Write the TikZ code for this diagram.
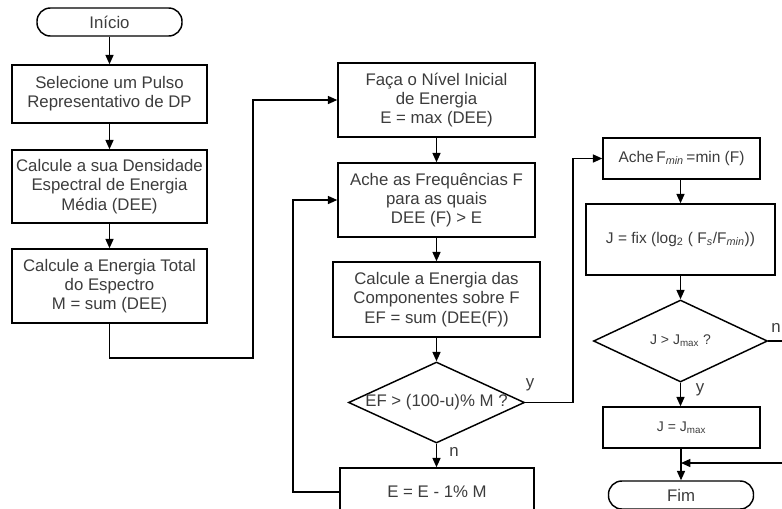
\documentclass[tikz,border=0pt]{standalone}
\usepackage{fontspec}
\setmainfont{Liberation Sans}
\usetikzlibrary{arrows.meta,shapes.geometric}
\definecolor{txtgray}{RGB}{60,60,60}
\tikzset{
  blk/.style={draw,line width=1.1pt,text=txtgray,align=center,inner sep=1pt,
    font=\fontsize{12.6}{14.4}\selectfont},
  term/.style={blk,rounded corners=10pt,minimum width=108.75pt,minimum height=21pt},
  dec/.style={blk,diamond,inner sep=0pt},
  arr/.style={line width=1.1pt,-{Triangle[length=7pt,width=6pt]}},
  lbl/.style={text=txtgray,font=\fontsize{12.6}{14.4}\selectfont,inner sep=0pt}
}
\newcommand{\smallj}{\fontsize{10.5}{12}\selectfont}
\newcommand{\midj}{\fontsize{11.6}{13}\selectfont}
\begin{document}
\begin{tikzpicture}[x=0.75pt,y=-0.75pt]
\useasboundingbox (0,0) rectangle (782,508);
\clip (0,0) rectangle (782,508);
% first column
\node[term] (ini) at (109.5,22) {Início};
\node[blk,minimum width=146.25pt,minimum height=43.5pt] (sel) at (109.5,94) {Selecione um Pulso\\Representativo de DP};
\node[blk,minimum width=146.25pt,minimum height=54.75pt] (dens) at (109.5,186.5) {Calcule a sua Densidade\\Espectral de Energia\\Média (DEE)};
\node[blk,minimum width=146.25pt,minimum height=55.5pt] (tot) at (109.5,286) {Calcule a Energia Total\\do Espectro\\M = sum (DEE)};
% second column
\node[blk,minimum width=147.75pt,minimum height=55.5pt] (faca) at (436.5,100) {Faça o Nível Inicial\\de Energia\\E = max (DEE)};
\node[blk,minimum width=147.75pt,minimum height=55.5pt] (freq) at (436.5,200) {Ache as Frequências F\\para as quais\\DEE (F) > E};
\node[blk,minimum width=155.25pt,minimum height=56.25pt] (comp) at (436.5,299.5) {Calcule a Energia das\\Componentes sobre F\\EF = sum (DEE(F))};
\node[dec,minimum width=132pt,minimum height=60.75pt] (dec1) at (436.5,402.5) {\makebox[0pt]{EF > (100-u)\% M ?}};
\node[blk,minimum width=145.5pt,minimum height=36pt] (red) at (437,492) {E = E - 1\% M};
% third column
\node[blk,minimum width=117.75pt,minimum height=30.75pt,font=\midj] (fmin) at (681.5,158.5) {Ache\,F\textsubscript{\textit{min}}\,=min (F)};
\node[blk,minimum width=141.75pt,minimum height=53.25pt,font=\midj] (fix) at (680.5,239.5) {J = fix (log\textsubscript{2} ( F\textsubscript{\textit{s}}/F\textsubscript{\textit{min}}))};
\node[dec,minimum width=130.5pt,minimum height=61.5pt] (dec2) at (680.5,341) {\makebox[0pt]{\smallj J > J\textsubscript{max} ?}};
\node[blk,minimum width=117.75pt,minimum height=30.75pt,font=\smallj] (jmax) at (681.5,427.5) {J = J\textsubscript{max}};
\node[term] (fim) at (681,495) {Fim};
\coordinate (merge) at (681,463);
% connectors
\draw[arr] (ini) -- (sel);
\draw[arr] (sel) -- (dens);
\draw[arr] (dens) -- (tot);
\draw[arr] (tot.south) -- (109.5,358) -- (253,358) |- (faca.west);
\draw[arr] (faca) -- (freq);
\draw[arr] (freq) -- (comp);
\draw[arr] (comp.south) -- (dec1.north);
\draw[arr] (dec1.south) -- (red.north -| dec1.south);
\draw[arr] (red.west) -- (293,492) |- (freq.west);
\draw[arr] (dec1.east) -- (573,402.5) |- (fmin.west);
\draw[arr] (fmin.south -| fix.north) -- (fix.north);
\draw[arr] (fix.south) -- (dec2.north);
\draw[arr] (dec2.south) -- (jmax.north -| dec2.south);
\draw[arr] (jmax.south -| merge) -- (fim.north -| merge);
\draw[arr] (dec2.east) -- (790,341) |- (merge);
% labels
\node[lbl] (ly1) at (530,385) {y};
\node[lbl] (ln1) at (454,452) {n};
\node[lbl] (ln2) at (776,328) {n};
\node[lbl] (ly2) at (700,390) {y};
\end{tikzpicture}
\end{document}
